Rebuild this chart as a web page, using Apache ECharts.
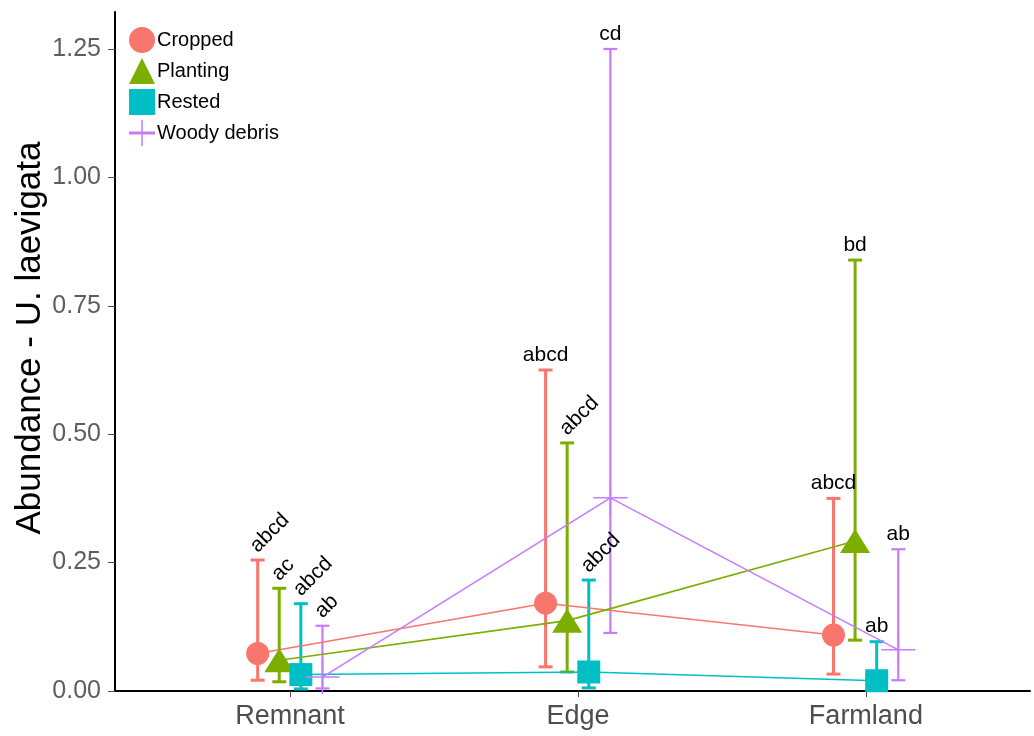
<!DOCTYPE html>
<html><head><meta charset="utf-8">
<script src="https://cdn.jsdelivr.net/npm/echarts@6/dist/echarts.min.js"></script>
<style>html,body{margin:0;padding:0;background:#fff}#c{width:1034px;height:736px}</style>
</head><body><div id="c"></div>
<script>
// ---- data ----
const categories = ['Remnant', 'Edge', 'Farmland'];
const groups = ['Cropped', 'Planting', 'Rested', 'Woody debris'];
const yTicks = [0, 0.25, 0.5, 0.75, 1.0, 1.25];

const croppedMean  = [0.073, 0.171, 0.109];
const croppedLow   = [0.021, 0.047, 0.033];
const croppedHigh  = [0.255, 0.625, 0.375];
const croppedLetters = ['abcd', 'abcd', 'abcd'];

const plantingMean = [0.060, 0.137, 0.292];
const plantingLow  = [0.018, 0.037, 0.099];
const plantingHigh = [0.200, 0.483, 0.839];
const plantingLetters = ['ac', 'abcd', 'bd'];

const restedMean   = [0.032, 0.037, 0.020];
const restedLow    = [0.004, 0.006, 0.003];
const restedHigh   = [0.170, 0.216, 0.096];
const restedLetters = ['abcd', 'abcd', 'ab'];

const woodyMean    = [0.027, 0.376, 0.080];
const woodyLow     = [0.005, 0.113, 0.021];
const woodyHigh    = [0.127, 1.250, 0.276];
const woodyLetters = ['ab', 'cd', 'ab'];

// ---- styling / build ----
const means = [croppedMean, plantingMean, restedMean, woodyMean];
const lows = [croppedLow, plantingLow, restedLow, woodyLow];
const highs = [croppedHigh, plantingHigh, restedHigh, woodyHigh];
const letters = [croppedLetters, plantingLetters, restedLetters, woodyLetters];
const colors = ['#F8766D', '#7CAE00', '#00BFC4', '#C77CFF'];
const dodge = [-0.1125, -0.0375, 0.0375, 0.1125];
// rotated letter labels (group index -> per-category flag)
const rotated = [[true, false, false], [true, true, false], [true, true, false], [true, false, false]];
const plusPath = 'path://M0,16 L34,16 L34,17.6 L0,17.6 Z M16.2,0 L17.8,0 L17.8,34 L16.2,34 Z';
const legendPlus = 'path://M0,15 L34,15 L34,19 L0,19 Z M16,0 L18,0 L18,34 L16,34 Z';
const symbols = ['circle', 'triangle', 'rect', plusPath];
const symbolSizes = [23, [30, 24], 23, 34];

const series = [];
groups.forEach((g, gi) => {
  const col = colors[gi];
  const lw = gi === 3 ? 2.2 : 3;
  series.push({
    type: 'custom', name: g + ' err', z: 1, silent: true,
    data: categories.map((c, ci) => [ci + 1 + dodge[gi], lows[gi][ci], highs[gi][ci]]),
    renderItem: (params, api) => {
      const x = api.value(0);
      const pLo = api.coord([x, api.value(1)]);
      const pHi = api.coord([x, api.value(2)]);
      const hw = 7;
      const st = { stroke: col, lineWidth: lw };
      return { type: 'group', children: [
        { type: 'line', shape: { x1: pLo[0], y1: pLo[1], x2: pHi[0], y2: pHi[1] }, style: st },
        { type: 'line', shape: { x1: pHi[0] - hw, y1: pHi[1], x2: pHi[0] + hw, y2: pHi[1] }, style: st },
        { type: 'line', shape: { x1: pLo[0] - hw, y1: pLo[1], x2: pLo[0] + hw, y2: pLo[1] }, style: st }
      ]};
    }
  });
});
groups.forEach((g, gi) => {
  series.push({
    type: 'line', name: g + ' line', z: 2, silent: true, showSymbol: false,
    data: categories.map((c, ci) => [ci + 1 + dodge[gi], means[gi][ci]]),
    lineStyle: { color: colors[gi], width: 1.6 }, itemStyle: { color: colors[gi] }
  });
});
groups.forEach((g, gi) => {
  series.push({
    type: 'scatter', name: g, z: 3, silent: true,
    symbol: symbols[gi], symbolSize: symbolSizes[gi],
    data: categories.map((c, ci) => [ci + 1 + dodge[gi], means[gi][ci]]),
    itemStyle: { color: colors[gi], opacity: 1 }
  });
});
groups.forEach((g, gi) => {
  series.push({
    type: 'custom', name: g + ' letters', z: 4, silent: true,
    data: categories.map((c, ci) => [ci + 1 + dodge[gi], highs[gi][ci]]),
    renderItem: (params, api) => {
      const ci = params.dataIndex;
      const p = api.coord([api.value(0), api.value(1)]);
      const rot = rotated[gi][ci];
      return {
        type: 'text',
        x: rot ? p[0] - 4 : p[0],
        y: rot ? p[1] - 11 : p[1] - 15,
        rotation: rot ? Math.PI / 4 : 0,
        style: {
          text: letters[gi][ci], fill: '#000',
          font: '21px "Liberation Sans", Arial, sans-serif',
          textAlign: rot ? 'left' : 'center', textVerticalAlign: 'middle'
        }
      };
    }
  });
});

const chart = echarts.init(document.getElementById('c'), null, { renderer: 'canvas' });
chart.setOption({
  animation: false,
  backgroundColor: '#fff',
  grid: { left: 115, right: 4, top: 12, bottom: 45, containLabel: false },
  xAxis: {
    type: 'value', min: 0.392, max: 3.57,
    axisLine: { lineStyle: { color: '#000', width: 2 } },
    axisTick: { show: true, customValues: [1, 2, 3], length: 6, lineStyle: { color: '#4d4d4d', width: 1 } },
    axisLabel: { customValues: [1, 2, 3], formatter: v => categories[Math.round(v) - 1], color: '#4d4d4d',
      fontSize: 27, fontFamily: '"Liberation Sans", Arial, sans-serif', margin: 12 },
    splitLine: { show: false }
  },
  yAxis: {
    type: 'value', min: 0, max: 1.322,
    axisLine: { show: true, lineStyle: { color: '#000', width: 2 } },
    axisTick: { show: true, customValues: yTicks, length: 7, lineStyle: { color: '#4d4d4d', width: 1 } },
    axisLabel: { customValues: yTicks, formatter: v => v.toFixed(2), color: '#5e5e5e',
      fontSize: 25, fontFamily: '"Liberation Sans", Arial, sans-serif', margin: 14 },
    splitLine: { show: false }
  },
  legend: {
    left: 124, top: 22, orient: 'vertical', selectedMode: false,
    itemWidth: 26, itemHeight: 26, itemGap: 5,
    textStyle: { fontSize: 20, color: '#000', fontFamily: '"Liberation Sans", Arial, sans-serif', padding: [0, 0, 0, -3] },
    data: groups.map((g, gi) => ({ name: g, icon: gi === 0 ? 'circle' : gi === 1 ? 'triangle' : gi === 2 ? 'rect' : legendPlus,
      itemStyle: { color: colors[gi] } }))
  },
  graphic: [{
    type: 'text', x: 30, y: 338, rotation: Math.PI / 2,
    style: { text: 'Abundance - U. laevigata', fill: '#000', font: '35px "Liberation Sans", Arial, sans-serif',
      textAlign: 'center', textVerticalAlign: 'middle' }
  }],
  series: series
});
</script>
</body></html>
